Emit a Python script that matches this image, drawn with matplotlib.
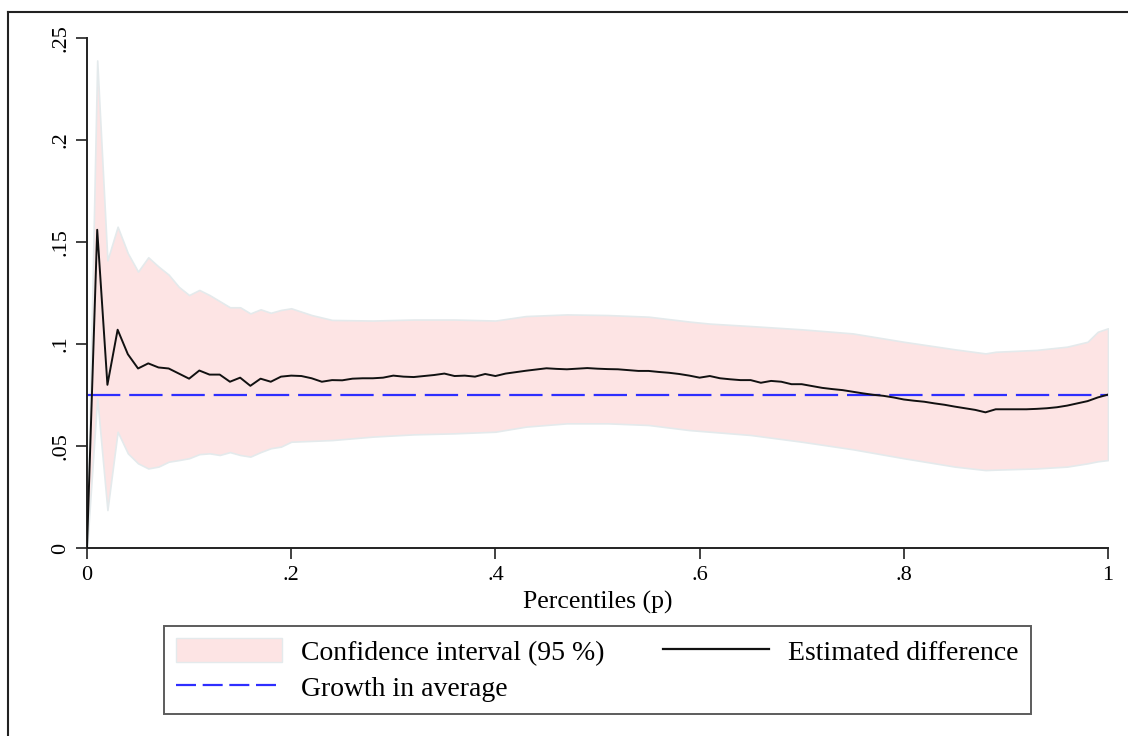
import matplotlib.pyplot as plt
import numpy as np
from matplotlib.lines import Line2D
from matplotlib.patches import Patch

plt.rcParams['font.family'] = ['Liberation Serif', 'DejaVu Serif']

# percentiles, 0.00 .. 1.00 in 0.01 steps
p = np.round(np.arange(0, 101) / 100, 2)

# estimated difference
est = [0.000, 0.156, 0.080, 0.107, 0.095, 0.088, 0.0905, 0.0885, 0.088, 0.0855,
       0.083, 0.087, 0.085, 0.085, 0.0815, 0.0835, 0.0795, 0.083, 0.0815, 0.084,
       0.0845, 0.0843, 0.0832, 0.0815, 0.0823, 0.0822, 0.083, 0.0832, 0.0832, 0.0835,
       0.0845, 0.084, 0.0838, 0.0843, 0.0848, 0.0855, 0.0843, 0.0845, 0.084, 0.0853,
       0.0843, 0.0855, 0.0862, 0.0869, 0.0875, 0.0881, 0.0878, 0.0876, 0.0879, 0.0882,
       0.0879, 0.0877, 0.0876, 0.0872, 0.0868, 0.0868, 0.0863, 0.0859, 0.0853, 0.0845,
       0.0835, 0.0843, 0.0832, 0.0827, 0.0823, 0.0823, 0.081, 0.0819, 0.0815, 0.0803,
       0.0803, 0.0794, 0.0785, 0.0779, 0.0774, 0.0766, 0.0758, 0.0751, 0.0746, 0.0738,
       0.0728, 0.0722, 0.0717, 0.0709, 0.0702, 0.0693, 0.0685, 0.0677, 0.0665, 0.068,
       0.068, 0.068, 0.068, 0.0682, 0.0685, 0.069, 0.0698, 0.0709, 0.072, 0.0738,
       0.0752]

# confidence band (95 %)
ci_p = [0.00, 0.01, 0.02, 0.03, 0.04, 0.05, 0.06, 0.07, 0.08, 0.09, 0.10,
        0.11, 0.12, 0.13, 0.14, 0.15, 0.16, 0.17, 0.18, 0.19, 0.20, 0.22,
        0.24, 0.28, 0.32, 0.36, 0.40, 0.43, 0.47, 0.51, 0.55, 0.59, 0.61,
        0.65, 0.70, 0.75, 0.80, 0.85, 0.88, 0.89, 0.93, 0.96, 0.98, 0.99, 1.00]
ci_hi = [0.000, 0.239, 0.141, 0.1575, 0.1445, 0.1355, 0.1425, 0.138, 0.134, 0.128, 0.124,
         0.1265, 0.124, 0.121, 0.118, 0.118, 0.115, 0.117, 0.1153, 0.1167, 0.1175, 0.1142,
         0.1118, 0.1115, 0.112, 0.112, 0.1115, 0.1137, 0.1145, 0.1142, 0.1134, 0.111, 0.110,
         0.1088, 0.1072, 0.1052, 0.1011, 0.0974, 0.0954, 0.0962, 0.0971, 0.0987, 0.1011, 0.106, 0.1077]
ci_lo = [0.000, 0.0735, 0.0186, 0.057, 0.0464, 0.0415, 0.039, 0.0399, 0.0423, 0.0431, 0.044,
         0.046, 0.0464, 0.0456, 0.047, 0.0456, 0.0448, 0.047, 0.0489, 0.0497, 0.0521, 0.0525,
         0.0529, 0.0546, 0.0557, 0.0562, 0.057, 0.0595, 0.0611, 0.0611, 0.0603, 0.0578, 0.057,
         0.0554, 0.0521, 0.0484, 0.044, 0.0399, 0.0382, 0.0384, 0.039, 0.0399, 0.0415, 0.0425, 0.0431]

growth_avg = 0.075

xticks = [0, 0.2, 0.4, 0.6, 0.8, 1.0]
xlabels = ['0', '.2', '.4', '.6', '.8', '1']
yticks = [0, 0.05, 0.1, 0.15, 0.2, 0.25]
ylabels = ['0', '.05', '.1', '.15', '.2', '.25']

W, H = 1128, 736
fig = plt.figure(figsize=(W / 100, H / 100), dpi=100)
ax = fig.add_axes([87 / W, 1 - 548 / H, 1021 / W, 510 / H])

pink = '#fde4e4'
ax.fill_between(ci_p, ci_lo, ci_hi, facecolor=pink, edgecolor='#e4eaec', linewidth=1.2, zorder=1)
ax.axhline(growth_avg, color='#2e2eff', lw=1.6, dashes=(15, 4), zorder=2)
ax.plot(p, est, color='#111111', lw=1.4, zorder=3)

ax.set_xlim(0, 1)
ax.set_ylim(0, 0.25)
ax.set_xticks(xticks, xlabels)
ax.set_yticks(yticks, ylabels)
for lab in ax.get_yticklabels():
    lab.set_rotation(90)
    lab.set_va('center')
ax.tick_params(axis='both', direction='out', length=8, width=1.3, labelsize=16, color='#333333')
ax.tick_params(axis='x', pad=5)
ax.tick_params(axis='y', pad=4)
for s in ['top', 'right']:
    ax.spines[s].set_visible(False)
for s in ['left', 'bottom']:
    ax.spines[s].set_linewidth(1.4)
    ax.spines[s].set_color('#222222')
ax.set_xlabel('Percentiles (p)', fontsize=18.5, labelpad=4)

handles = [Patch(facecolor=pink, edgecolor='#e4eaec'),
           Line2D([], [], color='#2e2eff', lw=1.6, dashes=(9, 3)),
           Line2D([], [], color='#111111', lw=1.6)]
labels = ['Confidence interval (95 %)', 'Growth in average', 'Estimated difference']
leg = fig.legend(handles, labels, ncol=2, loc='upper center',
                 bbox_to_anchor=(597.5 / W, 1 - 626 / H), fontsize=20,
                 frameon=True, fancybox=False, edgecolor='#333333',
                 handlelength=3.8, handleheight=0.95, handletextpad=0.7,
                 columnspacing=2.1, borderpad=0.45, labelspacing=0.3,
                 borderaxespad=0)
leg.get_frame().set_linewidth(1.4)

# outer frame of the graph region
fig.add_artist(Line2D([8 / W, 8 / W], [0, 1 - 12 / H], color='#222222', lw=1.5))
fig.add_artist(Line2D([8 / W, 1], [1 - 12 / H, 1 - 12 / H], color='#222222', lw=1.5))

fig.savefig('out.png', dpi=100)
